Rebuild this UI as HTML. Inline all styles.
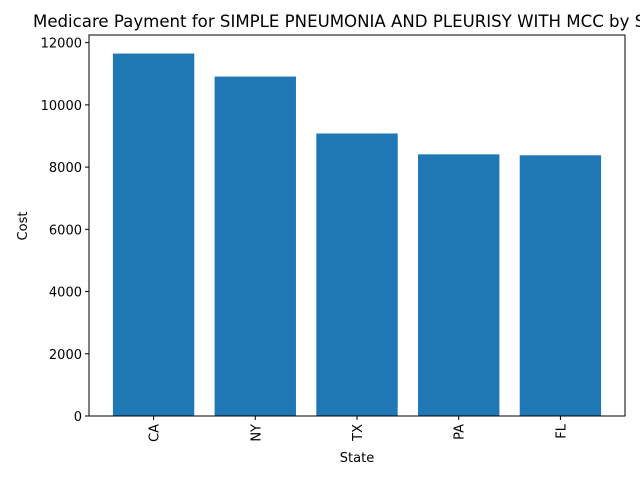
<!DOCTYPE html>
<html><head><meta charset="utf-8"><style>body{margin:0;background:#fff}svg{display:block;font-family:"DejaVu Sans","Liberation Sans",sans-serif}</style></head>
<body>
<svg width="640" height="480" xmlns="http://www.w3.org/2000/svg" id="chart">
<text x="33" y="27" font-size="16.6" fill="#000">Medicare Payment for SIMPLE PNEUMONIA AND PLEURISY WITH MCC by State</text>
<g id="bars"></g><g id="axes"></g>
<text x="357" y="462" font-size="13" text-anchor="middle">State</text>
<text transform="translate(27,226) rotate(-90)" font-size="13" text-anchor="middle">Cost</text>
</svg>
<script>
const categories=["CA","NY","TX","PA","FL"];
const values=[11650,10910,9080,8410,8380];
const yTicks=[0,2000,4000,6000,8000,10000,12000];
const NS="http://www.w3.org/2000/svg";
const L=89,R=625,T=35,B=416,yMax=12246;
const y=v=>B-(v/yMax)*(B-T);
const pad=0.635;
const xs=(R-L)/(4+2*pad);
const x=i=>L+(i+pad)*xs;
const bars=document.getElementById('bars'),axes=document.getElementById('axes');
function mk(tag,attrs,parent){const e=document.createElementNS(NS,tag);for(const k in attrs)e.setAttribute(k,attrs[k]);parent.appendChild(e);return e;}
categories.forEach((c,i)=>{
 const r=mk('rect',{x:x(i)-0.4*xs,y:y(values[i]),width:0.8*xs,height:B-y(values[i]),fill:'#1f77b4'},bars);
 
 
 mk('line',{x1:x(i),x2:x(i),y1:B,y2:B+4,stroke:'#000'},axes);
 const t=mk('text',{transform:`translate(${x(i)+5},${B+8}) rotate(-90)`,'font-size':13,'text-anchor':'end'},axes);
 t.textContent=c;
 
 
});
yTicks.forEach(v=>{
 mk('line',{x1:L-4,x2:L,y1:y(v),y2:y(v),stroke:'#000'},axes);
 const t=mk('text',{x:L-7,y:y(v)+5,'font-size':13,'text-anchor':'end'},axes);
 t.textContent=v;
 
 
});
const f=mk('rect',{x:L,y:T,width:R-L,height:B-T,fill:'none',stroke:'#000','stroke-width':1},axes);


</script>
</body></html>
